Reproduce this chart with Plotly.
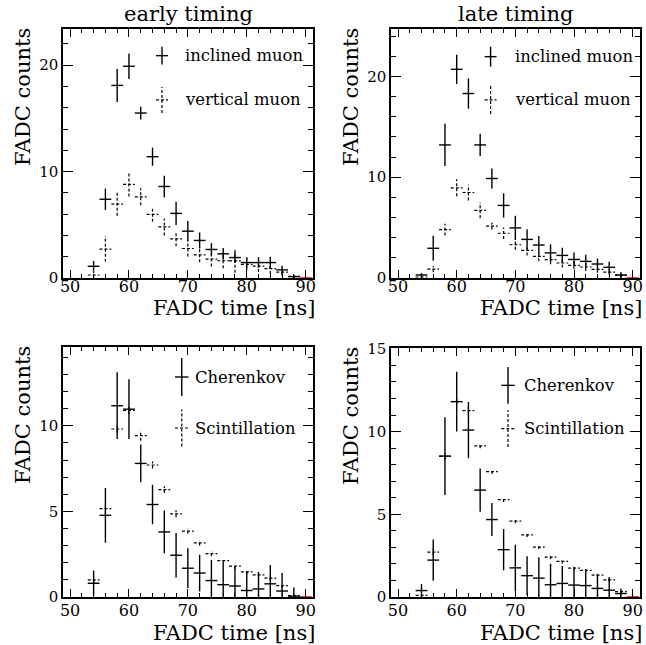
import plotly.graph_objects as go

# ---------------- data ----------------
bins = [54, 56, 58, 60, 62, 64, 66, 68, 70, 72, 74, 76, 78, 80, 82, 84, 86, 88]

# early timing: inclined / vertical muon
inc_early = [1.1, 7.4, 18.1, 19.9, 15.5, 11.4, 8.6, 6.07, 4.4, 3.53, 2.68, 2.27, 1.92, 1.45, 1.45, 1.45, 0.76, 0.13]
inc_early_err = [0.5, 1.0, 1.55, 1.2, 0.6, 0.85, 1.0, 1.1, 0.95, 0.75, 0.6, 0.55, 0.5, 0.5, 0.5, 0.55, 0.4, 0.15]
ver_early = [0.28, 2.72, 6.94, 8.8, 7.63, 5.98, 4.8, 3.68, 2.77, 2.17, 1.78, 1.62, 1.6, 1.28, 1.12, 0.88, 0.56, 0.15]
ver_early_err = [0.3, 1.2, 1.1, 1.15, 0.8, 0.7, 0.8, 0.7, 0.75, 0.7, 0.7, 0.7, 1.1, 0.55, 0.55, 0.5, 0.4, 0.2]

# late timing: inclined / vertical muon
inc_late = [0.3, 2.95, 13.2, 20.7, 18.3, 13.2, 9.87, 7.2, 4.97, 3.83, 3.27, 2.49, 2.24, 1.84, 1.65, 1.39, 1.06, 0.3]
inc_late_err = [0.2, 1.25, 2.1, 1.45, 1.5, 1.1, 1.0, 1.2, 1.2, 1.0, 0.9, 0.85, 0.75, 0.7, 0.65, 0.55, 0.55, 0.3]
ver_late = [0.1, 0.88, 4.79, 8.95, 8.48, 6.7, 5.15, 4.44, 3.3, 2.74, 2.15, 1.82, 1.49, 1.26, 1.09, 0.86, 0.59, 0.27]
ver_late_err = [0.1, 0.3, 0.58, 0.85, 0.78, 0.78, 0.35, 0.58, 0.5, 0.5, 0.5, 0.45, 0.45, 0.4, 0.4, 0.35, 0.3, 0.2]

# early timing: Cherenkov / Scintillation
cher_early = [0.8, 4.77, 11.17, 10.97, 7.8, 5.4, 3.8, 2.44, 1.68, 1.4, 0.96, 0.72, 0.64, 0.38, 0.47, 0.77, 0.35, 0.05]
cher_early_err = [0.75, 1.6, 1.95, 1.75, 1.1, 1.15, 1.25, 1.3, 1.16, 1.07, 1.2, 1.26, 1.13, 1.1, 1.0, 1.1, 1.05, 0.5]
scin_early = [1.0, 5.16, 9.81, 10.9, 9.42, 7.71, 6.27, 4.86, 3.85, 3.16, 2.53, 2.13, 1.8, 1.47, 1.29, 1.1, 0.66, 0.08]
scin_early_err = [0.2, 0.3, 0.2, 0.2, 0.3, 0.2, 0.2, 0.2, 0.15, 0.15, 0.15, 0.15, 0.15, 0.12, 0.12, 0.12, 0.12, 0.1]

# late timing: Cherenkov / Scintillation
cher_late = [0.39, 2.23, 8.52, 11.81, 10.09, 6.46, 4.68, 2.86, 1.76, 1.29, 1.14, 0.74, 0.82, 0.72, 0.69, 0.52, 0.41, 0.21]
cher_late_err = [0.4, 1.25, 2.35, 1.8, 1.7, 1.3, 1.0, 1.25, 1.4, 1.17, 1.27, 1.27, 1.05, 1.0, 0.93, 0.86, 0.8, 0.3]
scin_late = [0.1, 2.71, 8.5, 11.8, 11.26, 9.14, 7.58, 5.89, 4.58, 3.75, 3.02, 2.41, 2.15, 1.75, 1.61, 1.32, 1.04, 0.33]
scin_late_err = [0.1, 0.2, 0.2, 0.2, 0.25, 0.15, 0.15, 0.15, 0.12, 0.12, 0.12, 0.12, 0.12, 0.1, 0.1, 0.1, 0.1, 0.1]

# empty (zero) last bin drawn in red
red_bin = [90]
red_val = [0]

titles = ["early timing", "late timing"]
legend_top = ["inclined muon", "vertical muon"]
legend_bottom = ["Cherenkov", "Scintillation"]
x_title = "FADC time [ns]"
y_title = "FADC counts"

BIN_HALF = 1.0
FONT = "DejaVu Serif"
W, H = 646, 645


def crosses(xs, ys, es):
    px, py = [], []
    for x, y, e in zip(xs, ys, es):
        px += [x - BIN_HALF, x + BIN_HALF, None, x, x, None]
        py += [y, y, None, max(y - e, 0), y + e, None]
    return px, py


# panel geometry in screen pixels: (left, right, top, bottom)
panels = [
    (63, 313, 29, 278),
    (391, 640, 29, 278),
    (63, 313, 347, 597),
    (391, 640, 348, 597),
]
yranges = [[0, 23.4], [0, 24.7], [0, 14.6], [0, 15.05]]
ymajor = [10, 10, 5, 5]
yminor = [2, 2, 1, 1]
label_standoff = [-7, -7, -2, -2]
xtitle_shift = [-16, -16, -22, -22]

series = [
    (inc_early, inc_early_err, ver_early, ver_early_err),
    (inc_late, inc_late_err, ver_late, ver_late_err),
    (cher_early, cher_early_err, scin_early, scin_early_err),
    (cher_late, cher_late_err, scin_late, scin_late_err),
]

fig = go.Figure()
layout = dict(
    width=W, height=H, margin=dict(l=0, r=0, t=0, b=0, autoexpand=False),
    paper_bgcolor="white", plot_bgcolor="white", showlegend=False,
    font=dict(family=FONT, color="black"),
)
annotations = []
shapes = []

# legend geometry (domain fractions): x, y_solid, y_dash, half-width, half-h solid, half-h dash, text x
leg = [
    (0.396, 0.893, 0.715, 0.024, 0.036, 0.052, 0.48),
    (0.40, 0.889, 0.715, 0.024, 0.040, 0.056, 0.49),
    (0.475, 0.88, 0.676, 0.027, 0.076, 0.074, 0.52),
    (0.47, 0.85, 0.676, 0.027, 0.074, 0.074, 0.526),
]

for i, (l, r, t, b) in enumerate(panels):
    n = "" if i == 0 else str(i + 1)
    xa, ya = "x" + n, "y" + n
    sol, sol_e, dsh, dsh_e = series[i]

    dx, dy = crosses(bins, dsh, dsh_e)
    fig.add_trace(go.Scatter(x=dx, y=dy, mode="lines", xaxis=xa, yaxis=ya,
                             line=dict(color="black", width=1.2, dash="3px,2px"),
                             hoverinfo="skip"))
    sx, sy = crosses(bins, sol, sol_e)
    fig.add_trace(go.Scatter(x=sx, y=sy, mode="lines", xaxis=xa, yaxis=ya,
                             line=dict(color="black", width=1.4), hoverinfo="skip"))
    rx, ry = crosses(red_bin, red_val, [0])
    fig.add_trace(go.Scatter(x=rx, y=ry, mode="lines", xaxis=xa, yaxis=ya,
                             line=dict(color="red", width=1.6), hoverinfo="skip"))

    common = dict(showline=True, linecolor="black", linewidth=1.5, mirror="allticks",
                  ticks="inside", tickcolor="black", showgrid=False, zeroline=False)
    layout["xaxis" + n] = dict(
        domain=[l / W, r / W], anchor=ya, range=[48.8, 91.25],
        tickmode="linear", tick0=50, dtick=10, ticklen=8, tickwidth=1,
        ticklabelstandoff=label_standoff[i],
        minor=dict(ticks="inside", dtick=2, ticklen=4, tickcolor="black", tickwidth=1),
        tickfont=dict(family=FONT, size=16, color="black"), **common)
    layout["yaxis" + n] = dict(
        domain=[1 - b / H, 1 - t / H], anchor=xa, range=yranges[i],
        tickmode="linear", tick0=0, dtick=ymajor[i], ticklen=10, tickwidth=1,
        minor=dict(ticks="inside", dtick=yminor[i], ticklen=5, tickcolor="black", tickwidth=1),
        tickfont=dict(family=FONT, size=15, color="black"), **common)

    xd, yd = xa + " domain", ya + " domain"
    # axis titles (ROOT style: right / top aligned)
    annotations.append(dict(text=x_title, xref=xd, yref=yd, x=1.0, y=0, xanchor="right",
                            yanchor="top", xshift=4, yshift=xtitle_shift[i], showarrow=False,
                            font=dict(family=FONT, size=21, color="black")))
    annotations.append(dict(text=y_title, xref=xd, yref=yd, x=0, y=1, xanchor="center",
                            yanchor="top", xshift=-40, yshift=3, textangle=-90, showarrow=False,
                            font=dict(family=FONT, size=21, color="black")))
    if i < 2:
        annotations.append(dict(text=titles[i], xref=xd, yref=yd, x=0.5, y=1, xanchor="center",
                                yanchor="bottom", yshift=1, showarrow=False,
                                font=dict(family=FONT, size=21, color="black")))

    # legend
    lx, ys_, yd_, hw, hs, hd, tx = leg[i]
    labels = legend_top if i < 2 else legend_bottom
    for yy, hh, solid, lab in ((ys_, hs, True, labels[0]), (yd_, hd, False, labels[1])):
        ln = dict(color="black", width=1.4 if solid else 1.2,
                  dash="solid" if solid else "3px,2px")
        shapes.append(dict(type="line", xref=xd, yref=yd, x0=lx - hw, x1=lx + hw, y0=yy, y1=yy, line=ln))
        shapes.append(dict(type="line", xref=xd, yref=yd, x0=lx, x1=lx, y0=yy - hh, y1=yy + hh, line=ln))
        annotations.append(dict(text=lab, xref=xd, yref=yd, x=tx, y=yy, xanchor="left",
                                yanchor="middle", showarrow=False,
                                font=dict(family=FONT, size=16.4, color="black")))

layout["annotations"] = annotations
layout["shapes"] = shapes
fig.update_layout(**layout)
fig.write_html("out.html", config={"displayModeBar": False},
               post_script="document.body.style.margin='0px';")
